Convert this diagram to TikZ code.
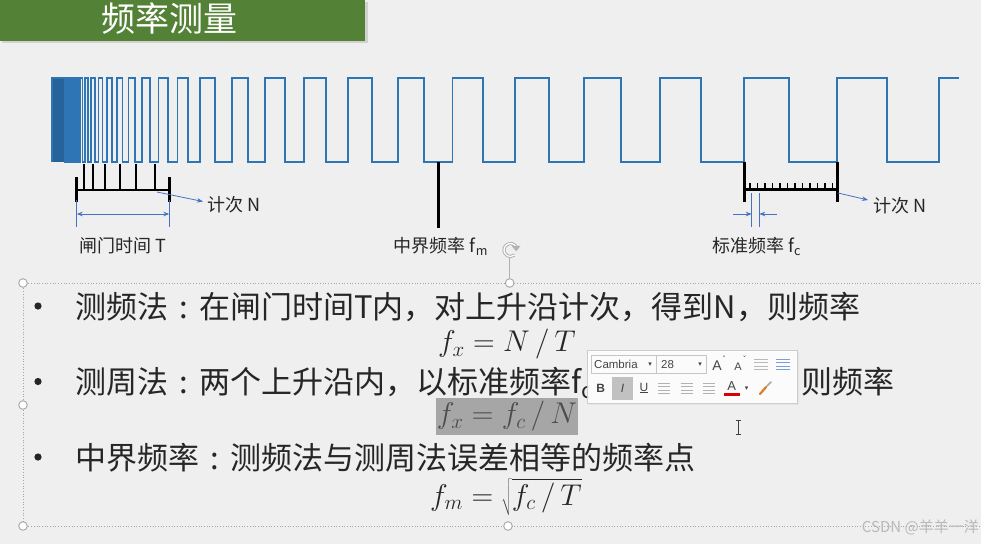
\documentclass[tikz,border=0pt]{standalone}
\usepackage{fix-cm}
\usepackage[no-math]{fontspec}
\setmainfont{Noto Sans CJK SC}
\newfontfamily\uifont{Liberation Sans}
\newfontfamily\symfont{DejaVu Sans}
\usetikzlibrary{arrows.meta,calc}
\definecolor{bg}{HTML}{EFEFEF}
\definecolor{tgreen}{HTML}{538135}
\definecolor{wblue}{HTML}{2E75B6}
\definecolor{ablue}{HTML}{4472C4}
\definecolor{txt}{HTML}{262626}
\definecolor{hl}{HTML}{A6A6A6}
\definecolor{uigray}{HTML}{444444}
\newcommand\fwcolon{\makebox[1em][c]{:}}
\begin{document}
\begin{tikzpicture}[x=1pt,y=-1pt,
  wave/.style={draw=wblue,line width=1.8pt,line join=miter},
  mk/.style={black,line width=2.8pt},
  tk/.style={black,line width=2.2pt},
  stk/.style={black,line width=1.8pt},
  thinb/.style={ablue,line width=0.7pt},
  barrow/.style={ablue,line width=0.8pt,-{Stealth[length=6pt,width=4.5pt]}},
  darrow/.style={ablue,line width=0.8pt,{Stealth[length=6pt,width=4.5pt]}-{Stealth[length=6pt,width=4.5pt]}},
  lbl/.style={font=\fontsize{18}{20}\selectfont,text=txt,inner sep=0pt},
  body/.style={font=\fontsize{31}{34}\selectfont,text=txt,inner sep=0pt,anchor=base west},
  formula/.style={font=\fontsize{30}{34}\selectfont,text=txt,inner sep=0pt},
  handle/.style={draw=gray!70,fill=white,line width=0.9pt},
  ui/.style={font=\uifont\fontsize{11.5}{13}\selectfont,text=uigray,inner sep=0pt},
  uibox/.style={draw=gray!45,line width=0.6pt},
  bul/.style={fill=txt}
]
% background
\fill[bg] (0,0) rectangle (981,544);
\useasboundingbox (0,0) rectangle (981,544);

% title bar
\fill[black!18] (2,2) rectangle (368,43);
\fill[tgreen] (0,0) rectangle (365,41);
\node[font=\fontsize{34}{36}\selectfont,text=white,inner sep=0pt] (title) at (169.5,19) {频率测量};

% waveform
\fill[wblue!85!black] (52,78) rectangle (65,162);
\draw[wave] (52,162) -- (52,78)
  foreach \f/\r in {64.9/66.1,67.4/68.8,70.3/71.9,73.7/75.6,77.7/80.0,82.5/85.2,88.1/91.3,94.7/98.4,102.5/106.9,111.6/116.8,122.4/128.5,135.1/142.3,150.1/158.5,167.6/177.5,188.3/200,215/231.7,248.3/265,285/304,325.7/347.7,372.3/397.7,424/452.5,482.7/515,548.7/583.7,621/660,701/744.3,789.3/837,886.7/938.7}
  { -- (\f,78) -- (\f,162) -- (\r,162) -- (\r,78) } -- (959,78);

% gate-time counter (left)
\coordinate (gL) at (76.7,190);
\coordinate (gR) at (169.3,190);
\draw[mk] (76.7,177) -- (76.7,202);
\draw[mk] (169.3,177) -- (169.3,202);
\draw[mk] (gL) -- (gR);
\foreach \x in {84.3,93.3,105,120,136,155} \draw[tk] (\x,164) -- (\x,190);
\coordinate (a1s) at (157,192);
\coordinate (a1e) at (203,201.5);
\draw[barrow] (a1s) -- (a1e);
\node[lbl,anchor=west] (cnt1) at (207,205) {计次 N};
\draw[thinb] (76.7,200) -- (76.7,227);
\draw[thinb] (169.3,200) -- (169.3,227);
\coordinate (dL) at (76.7,214);
\coordinate (dR) at (169.3,214);
\draw[darrow] (dL) -- (dR);
\node[lbl] (gate) at (122.5,246) {闸门时间 T};

% middle frequency marker
\coordinate (mTop) at (438.3,162);
\coordinate (mBot) at (438.3,228);
\draw[mk] (mTop) -- (mBot);
\node[lbl] (mid) at (441,246.5) {中界频率 f\textsubscript{m}};

% rotation handle with stem
\coordinate (rotC) at (510.5,250);
\coordinate (rotS) at (509.7,257.5);
\coordinate (topH) at (509.7,283);
\draw[gray!60,line width=0.9pt] (rotS) -- (topH);
\draw[gray!60,line width=3.2pt] (rotC) ++(-30:6.5) arc[start angle=-30,end angle=-310,radius=6.5];
\draw[white,line width=1.2pt] (rotC) ++(-30:6.5) arc[start angle=-30,end angle=-310,radius=6.5];
\fill[gray!60] ($(rotC)+(-30:6.5)+(-4.5,-1)$) -- ++(9,0) -- ++(-4.5,5.5) -- cycle;

% period counter (right)
\coordinate (pL) at (744.3,189.3);
\coordinate (pR) at (837.3,189.3);
\draw[mk] (744.3,161.7) -- (744.3,201.7);
\draw[mk] (837.3,161.7) -- (837.3,201.7);
\draw[mk] (pL) -- (pR);
\foreach \k in {0,...,11} \draw[stk] ({750+7.5*\k},183.3) -- ({750+7.5*\k},189.3);
\coordinate (a2s) at (838,193);
\coordinate (a2e) at (868,200);
\draw[barrow] (a2s) -- (a2e);
\node[lbl,anchor=west] (cnt2) at (873,206) {计次 N};
\draw[thinb] (751.7,193) -- (751.7,227);
\draw[thinb] (759.3,193) -- (759.3,227);
\coordinate (c1s) at (733.3,214);
\coordinate (c1e) at (751.7,214);
\coordinate (c2s) at (777.3,214);
\coordinate (c2e) at (759.3,214);
\draw[barrow] (c1s) -- (c1e);
\draw[barrow] (c2s) -- (c2e);
\node[lbl] (std) at (756.7,246.5) {标准频率 f\textsubscript{c}};

% text box selection frame
\draw[gray!70,dotted,line width=0.7pt] (23,283) -- (981,283);
\draw[gray!70,dotted,line width=0.7pt] (23,283) -- (23,526);
\draw[gray!70,dotted,line width=0.7pt] (23,526) -- (981,526);

% highlight behind formula 2
\fill[hl] (436,398) rectangle (578,435);

% bullets and body text
\fill[bul] (38,306) circle (3.6);
\fill[bul] (38,381.5) circle (3.6);
\fill[bul] (38,457) circle (3.6);
\node[body] (l1) at (75,318) {测频法\fwcolon 在闸门时间T内，对上升沿计次，得到N，则频率};
\node[body] (l2) at (75,393.5) {测周法\fwcolon 两个上升沿内，以标准频率f\textsubscript{c}计次，得到N，则频率};
\node[body] (l3) at (75,469) {中界频率\fwcolon 测频法与测周法误差相等的频率点};
\node[formula] (f1) at (507,344) {$f_x = N\,/\,T$};
\node[formula,text=black!70] (f2) at (507,416) {$f_x = f_c\,/\,N$};
\node[formula] (f3) at (506,497) {$f_m = \sqrt{f_c\,/\,T}$};

% handles
\foreach \p/\n in {{(23,283)}/h1,{(23,405)}/h2,{(23,526)}/h3,{(509.7,283)}/h4,{(508,526)}/h5}
  \draw[handle] \p circle (4.3);

% floating mini toolbar
\fill[black!10] (588.5,351.5) rectangle (798.5,405);
\draw[gray!40,fill=white,fill opacity=0.88,line width=0.6pt] (587,350) rectangle (797,403.3);
\draw[uibox] (591.7,355) rectangle (656.7,373.3);
\draw[uibox] (656.7,355) rectangle (706.7,373.3);
\node[ui,anchor=west] (tbfont) at (594,364.5) {Cambria};
\node[ui,font=\symfont\fontsize{7}{8}\selectfont] (tbd1) at (650,364.5) {▾};
\node[ui,anchor=west] (tbsize) at (661,364.5) {28};
\node[ui,font=\symfont\fontsize{7}{8}\selectfont] (tbd2) at (700,364.5) {▾};
\node[ui,font=\uifont\fontsize{14}{15}\selectfont] (tbAup) at (717,365.5) {A};
\node[ui,font=\uifont\fontsize{7}{8}\selectfont] (tbAupc) at (724,358.5) {\symfont ˄};
\node[ui,font=\uifont\fontsize{11}{12}\selectfont] (tbAdn) at (738,366.5) {A};
\node[ui,font=\uifont\fontsize{7}{8}\selectfont] (tbAdnc) at (744.5,358.5) {\symfont ˅};
\foreach \yy in {359,362.5,366,369.5} {
  \draw[gray!55,line width=0.8pt] (754,\yy) -- (768,\yy);
  \draw[ablue!70,line width=0.8pt] (776,\yy) -- (790,\yy);
}
\fill[hl!70] (611.7,377) rectangle (633.3,400);
\node[ui,font=\uifont\bfseries\fontsize{12}{13}\selectfont] (tbB) at (600.7,388.5) {B};
\node[ui,font=\uifont\itshape\fontsize{12}{13}\selectfont] (tbI) at (622.5,388.5) {I};
\node[ui,font=\uifont\fontsize{12}{13}\selectfont] (tbU) at (644,388) {\underline{U}};
\foreach \cx in {664.3,686.7,709} {
  \foreach \yy in {383,386.5,390,393.5} \draw[gray!60,line width=0.8pt] ({\cx-6},\yy) -- ({\cx+6},\yy);
}
\node[ui,font=\uifont\fontsize{13}{14}\selectfont] (tbA) at (731.7,386) {A};
\fill[red!85!black] (724,393) rectangle (739.5,396);
\node[ui,font=\symfont\fontsize{7}{8}\selectfont] (tbd3) at (746.7,388.5) {▾};
\draw[brown!60!orange,line width=2.2pt,line cap=round] (760,394) -- (766,387);
\draw[gray!70,line width=1.6pt,line cap=round] (767,386) -- (771,382);

% I-beam cursor
\draw[black!75,line width=0.7pt] (738,420) -- (738,434);
\draw[black!75,line width=0.7pt] (735.5,420) -- (740.5,420);
\draw[black!75,line width=0.7pt] (735.5,434) -- (740.5,434);

% watermark
\node[font=\fontsize{15}{17}\selectfont,text=gray!55,anchor=east,inner sep=0pt] (wm) at (979,527) {CSDN @羊羊一洋};
\end{tikzpicture}
\end{document}
